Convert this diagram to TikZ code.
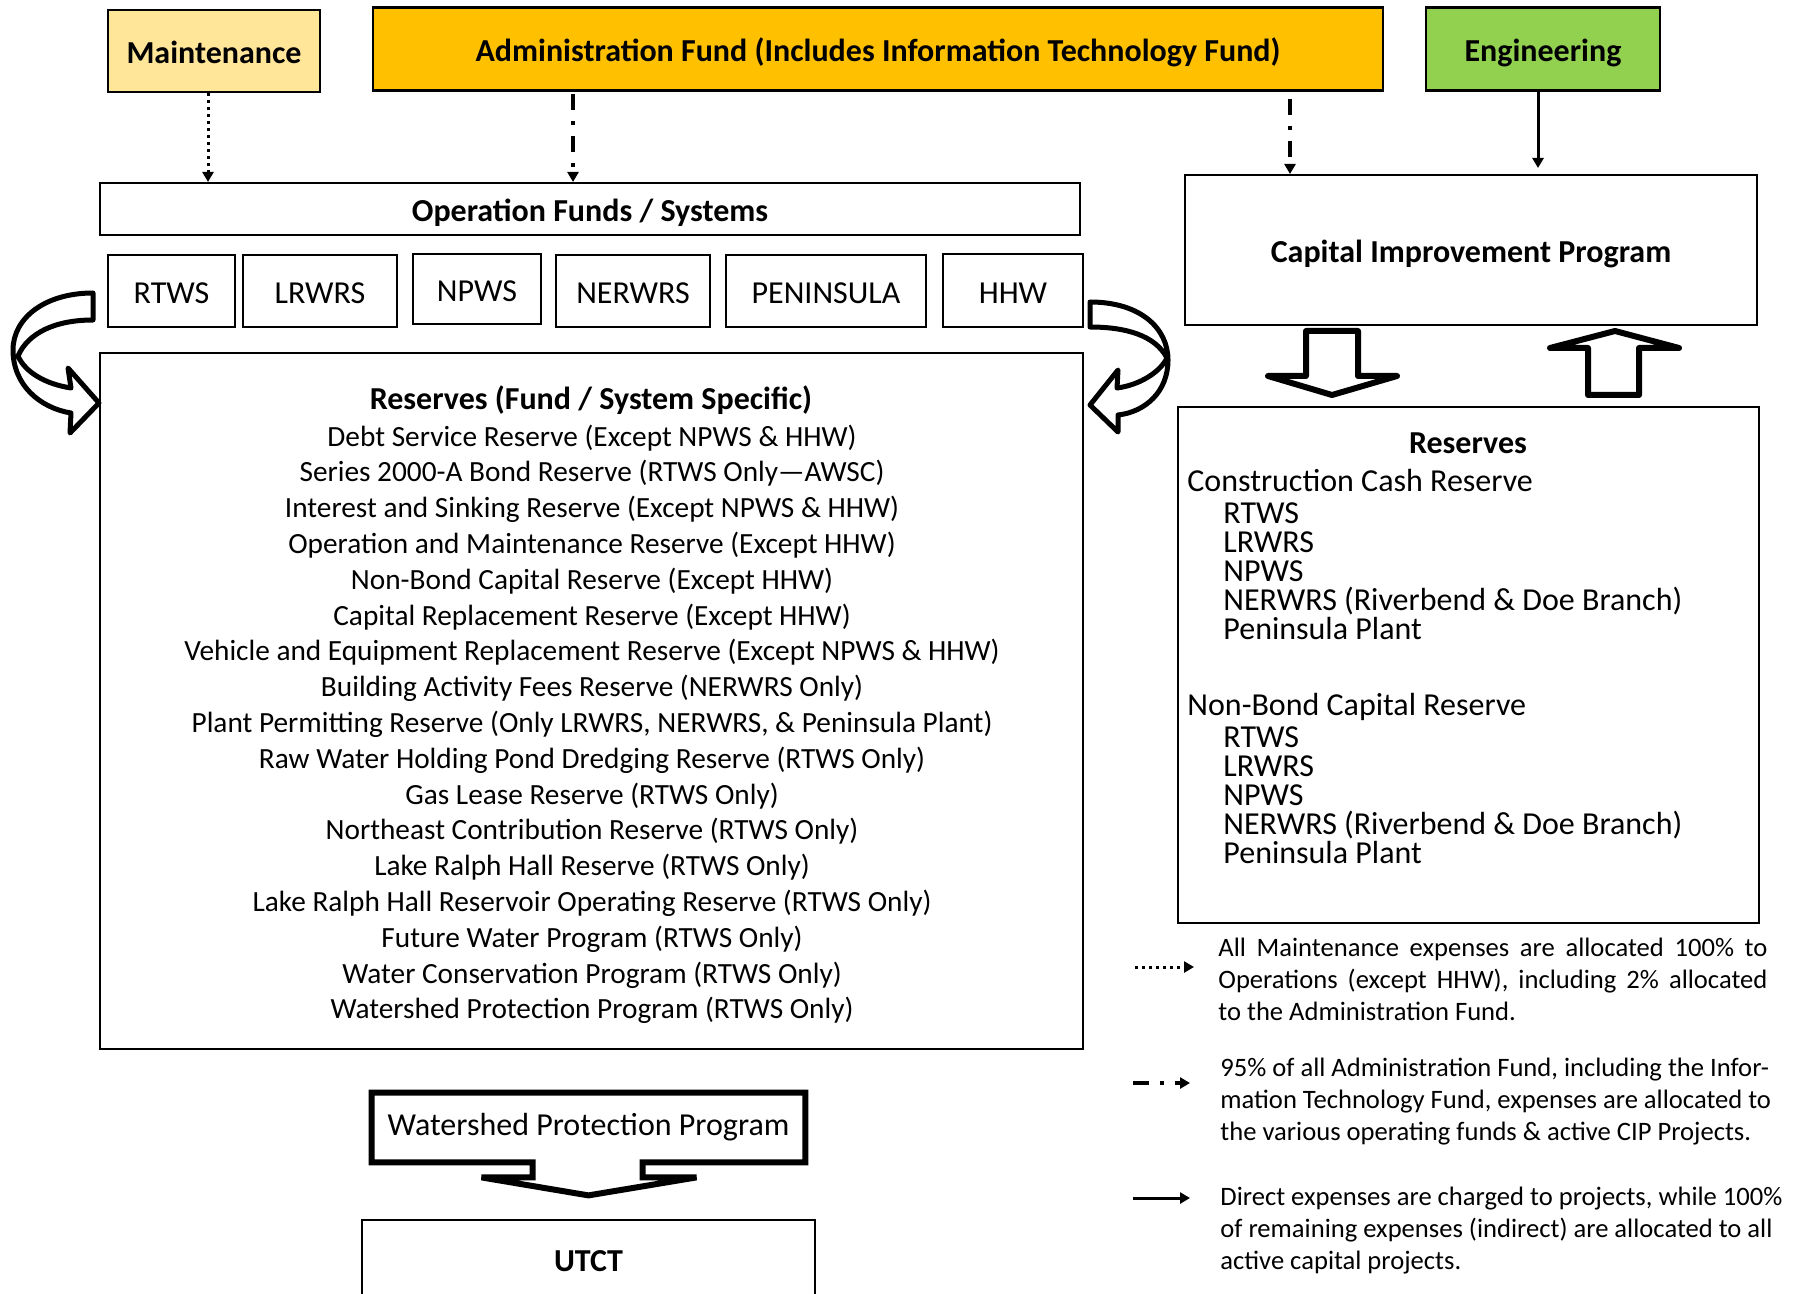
\documentclass[tikz,border=0pt]{standalone}
\usepackage{fontspec}
\setmainfont{Carlito}
\definecolor{fdMaint}{HTML}{FFE699}
\definecolor{fdAdmin}{HTML}{FFC000}
\definecolor{fdEng}{HTML}{92D050}
\usetikzlibrary{calc,arrows.meta}

\tikzset{
  topbox/.style={draw=black, line width=1.2pt, inner sep=0pt, text height=13pt, text depth=0pt, font=\bfseries\fontsize{16}{19}\selectfont},
  plainbox/.style={draw=black, line width=1pt, inner sep=0pt, text height=13pt, text depth=0pt, font=\fontsize{16}{19}\selectfont},
  boldbox/.style={plainbox, font=\bfseries\fontsize{16}{19}\selectfont},
  listtxt/.style={anchor=base, inner sep=0pt, font=\fontsize{14.65}{17.9}\selectfont},
  cashtxt/.style={anchor=base west, inner sep=0pt, font=\fontsize{16}{14.5}\selectfont},
  notetxt/.style={anchor=base west, inner sep=0pt, text width=300pt, align=flush left, font=\fontsize{13.3}{16.1}\selectfont},
  dotarrow/.style={line width=1.5pt, dash pattern=on 1.5pt off 2pt, -{Triangle[length=5pt,width=5.5pt]}},
  dasharrow/.style={line width=2.2pt, dash pattern=on 8pt off 5.5pt on 2pt off 5.5pt, -{Triangle[length=5pt,width=5.5pt]}},
  fullarrow/.style={line width=1.5pt, -{Triangle[length=5pt,width=5.5pt]}},
  blockarrow/.style={draw=black, line width=3pt, line join=round},
  calloutline/.style={draw=black, line width=3pt, line join=miter},
  bendarrow/.style={draw=black, line width=2.5pt, line join=round},
}

\begin{document}
\begin{tikzpicture}[x=0.5pt, y=-0.5pt]
  \useasboundingbox (0,0) rectangle (1804,1294);

  % Top boxes
  \node[topbox, fill=fdMaint, minimum width=106pt, minimum height=41pt] (maint) at (214,51) {Maintenance};
  \node[topbox, fill=fdAdmin, minimum width=505pt, minimum height=41.5pt] (admin) at (878,49) {Administration Fund (Includes Information Technology Fund)};
  \node[topbox, fill=fdEng, minimum width=117pt, minimum height=41.5pt] (eng) at (1543,49) {Engineering};

  % Operation funds / systems
  \node[boldbox, minimum width=490pt, minimum height=26pt] (ops) at (590,209) {Operation Funds / Systems};
  \node[plainbox, minimum width=63.5pt, minimum height=36pt] (rtws) at (171.5,291) {RTWS};
  \node[plainbox, minimum width=77pt, minimum height=36pt] (lrwrs) at (320,291) {LRWRS};
  \node[plainbox, minimum width=64pt, minimum height=35pt] (npws) at (477,289) {NPWS};
  \node[plainbox, minimum width=77pt, minimum height=36pt] (nerwrs) at (633,291) {NERWRS};
  \node[plainbox, minimum width=100pt, minimum height=36pt] (penin) at (826,291) {PENINSULA};
  \node[plainbox, minimum width=70pt, minimum height=36.5pt] (hhw) at (1013,290.5) {HHW};

  % Fund / system reserves
  \node[plainbox, minimum width=491.5pt, minimum height=348pt] (res) at (591.5,701) {};
  \node[listtxt, font=\bfseries\fontsize{16}{19}\selectfont] (restitle) at (591,410) {Reserves (Fund / System Specific)};
  \foreach \txt [count=\i] in {
      Debt Service Reserve (Except NPWS \& HHW),
      Series 2000-A Bond Reserve (RTWS Only—AWSC),
      Interest and Sinking Reserve (Except NPWS \& HHW),
      Operation and Maintenance Reserve (Except HHW),
      Non-Bond Capital Reserve (Except HHW),
      Capital Replacement Reserve (Except HHW),
      Vehicle and Equipment Replacement Reserve (Except NPWS \& HHW),
      Building Activity Fees Reserve (NERWRS Only),
      {Plant Permitting Reserve (Only LRWRS, NERWRS, \& Peninsula Plant)},
      Raw Water Holding Pond Dredging Reserve (RTWS Only),
      Gas Lease Reserve (RTWS Only),
      Northeast Contribution Reserve (RTWS Only),
      Lake Ralph Hall Reserve (RTWS Only),
      Lake Ralph Hall Reservoir Operating Reserve (RTWS Only),
      Future Water Program (RTWS Only),
      Water Conservation Program (RTWS Only),
      Watershed Protection Program (RTWS Only)}
    \node[listtxt] (res\i) at (592,{446+35.8*(\i-1)}) {\txt};

  % Curved arrows beside the systems row
  \draw[bendarrow] (93,293) .. controls (45,293) and (13,318) .. (13,350)
    .. controls (13,385) and (40,408) .. (71,413) -- (70,433) -- (99,403) -- (68,368) -- (71,388)
    .. controls (45,384) and (25,372) .. (18,356) .. controls (28,333) and (55,320) .. (93,320) -- cycle;
  \draw[bendarrow] (1090,302) .. controls (1140,302) and (1168,328) .. (1168,360)
    .. controls (1168,392) and (1145,412) .. (1118,415) -- (1118,432) -- (1090,405) -- (1118,370) -- (1117,388)
    .. controls (1140,385) and (1160,372) .. (1167,358) .. controls (1155,335) and (1125,327) .. (1090,327) -- cycle;

  % Capital side
  \node[boldbox, minimum width=286pt, minimum height=75pt] (cip) at (1471,250) {Capital Improvement Program};
  \node[plainbox, minimum width=290.5pt, minimum height=258pt] (cash) at (1468.5,665) {};
  \node[anchor=base, inner sep=0pt, font=\bfseries\fontsize{16}{19}\selectfont] (cashtitle) at (1468,453) {Reserves};
  \node[cashtxt] (ccr) at (1187,491) {Construction Cash Reserve};
  \node[cashtxt] (nbc) at (1187,715) {Non-Bond Capital Reserve};
  \foreach \txt [count=\i] in {RTWS, LRWRS, NPWS, NERWRS (Riverbend \& Doe Branch), Peninsula Plant}{
    \node[cashtxt] (ccr\i) at (1223,{523+29*(\i-1)}) {\txt};
    \node[cashtxt] (nbc\i) at (1223,{747.5+29*(\i-1)}) {\txt};
  }

  % Block arrows between CIP and reserves
  \draw[blockarrow] (1306,331) -- (1358,331) -- (1358,376) -- (1397,376) -- (1332,395) -- (1268,376) -- (1306,376) -- cycle;
  \draw[blockarrow] (1588,395) -- (1588,348) -- (1550,348) -- (1615,331) -- (1679,348) -- (1639,348) -- (1639,395) -- cycle;

  % Allocation arrows
  \coordinate (ma) at (208,0);
  \coordinate (aa) at (573,0);
  \coordinate (ab) at (1290,0);
  \coordinate (ea) at (1538,0);
  \draw[dotarrow] (maint.south -| ma) -- (ops.north -| ma);
  \draw[dasharrow, shorten <=1pt] (admin.south -| aa) -- (ops.north -| aa);
  \draw[dasharrow, shorten <=3.5pt] (admin.south -| ab) -- (cip.north -| ab);
  \draw[fullarrow, shorten >=3pt] (eng.south -| ea) -- (cip.north -| ea);

  % Watershed callout and UTCT
  \node[inner sep=0pt, minimum width=216.5pt, minimum height=34.5pt, font=\fontsize{16}{19}\selectfont] (wpp) at (588.5,1127.5) {Watershed Protection Program};
  \draw[calloutline] (wpp.north west) -- (wpp.north east) -- (wpp.south east)
    -- ($(wpp.south)+(54,0)$) -- ($(wpp.south)+(54,15)$) -- ($(wpp.south)+(108,15)$)
    -- ($(wpp.south)+(0,33)$)
    -- ($(wpp.south)+(-107,15)$) -- ($(wpp.south)+(-56,15)$) -- ($(wpp.south)+(-56,0)$)
    -- (wpp.south west) -- cycle;
  \begin{scope}
    \clip (0,0) rectangle (1804,1294);
    \node[boldbox, text depth=2pt, minimum width=226.5pt, minimum height=40pt] (utct) at (588.5,1260) {UTCT};
  \end{scope}

  % Legend
  \coordinate (k1a) at (1135,967);
  \coordinate (k1b) at (1194,967);
  \coordinate (k2a) at (1133,1083);
  \coordinate (k2b) at (1190,1083);
  \coordinate (k3a) at (1133,1198);
  \coordinate (k3b) at (1190,1198);
  \draw[dotarrow] (k1a) -- (k1b);
  \draw[dasharrow] (k2a) -- (k2b);
  \draw[fullarrow] (k3a) -- (k3b);
  \node[notetxt] (note1) at (1218,956)
    {\makebox[274.5pt][s]{All Maintenance expenses are allocated 100\% to}\\
     \makebox[274.5pt][s]{Operations (except HHW), including 2\% allocated}\\
     to the Administration Fund.};
  \node[notetxt] (note2) at (1220,1076)
    {95\% of all Administration Fund, including the Infor-\\
     mation Technology Fund, expenses are allocated to\\
     the various operating funds \& active CIP Projects.};
  \node[notetxt] (note3) at (1220,1205)
    {Direct expenses are charged to projects, while 100\%\\
     of remaining expenses (indirect) are allocated to all\\
     active capital projects.};
\end{tikzpicture}
\end{document}
